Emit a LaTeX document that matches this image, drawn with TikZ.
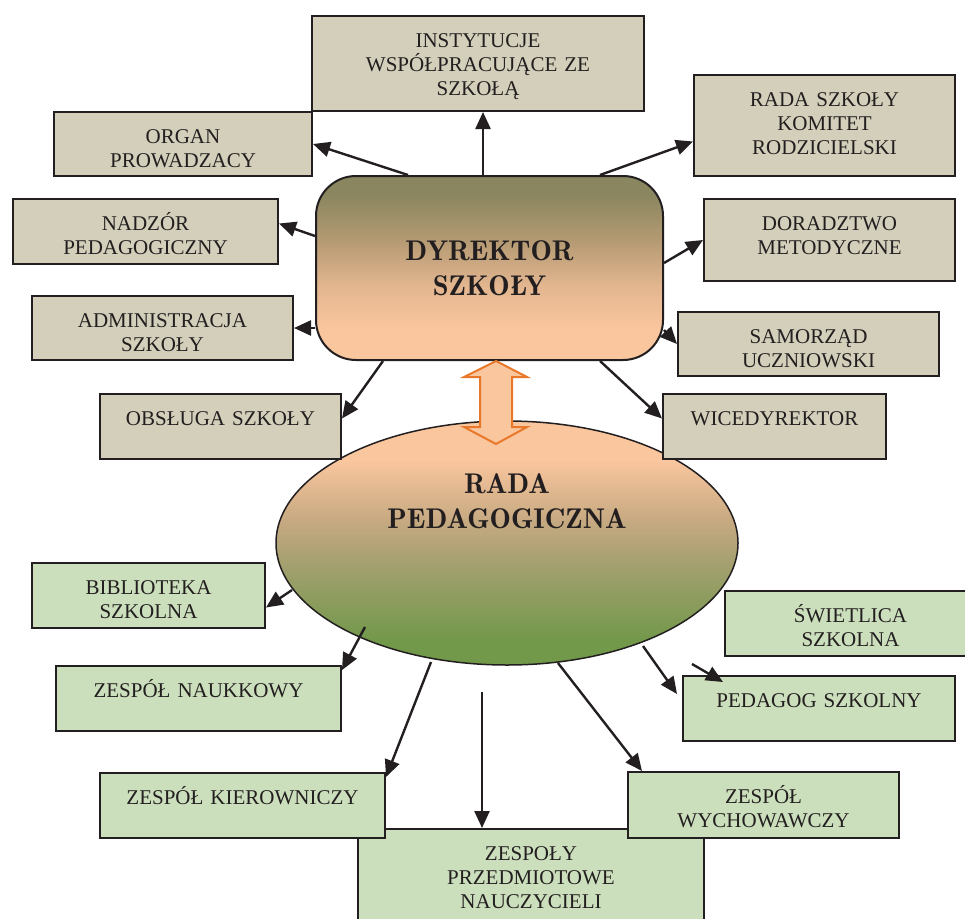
\documentclass[tikz,border=0pt]{standalone}
\usepackage{fontspec}
\newfontfamily\boxfont{Liberation Serif}
\newfontfamily\titlefont{lmromandemi10-regular.otf}
\usetikzlibrary{arrows.meta,shapes.geometric}
\definecolor{ink}{HTML}{231F20}
\definecolor{boxtan}{HTML}{D3CFBA}
\definecolor{boxgreen}{HTML}{CCDFBC}
\definecolor{dirtop}{HTML}{8A865F}
\definecolor{dirmid}{HTML}{B69B74}
\definecolor{dirlow}{HTML}{E3B690}
\definecolor{peach}{HTML}{FAC69E}
\definecolor{pedtan}{HTML}{C8AA82}
\definecolor{pedmid}{HTML}{A5A070}
\definecolor{pedgreen}{HTML}{72984A}
\definecolor{dblorange}{HTML}{E8782A}
\pgfdeclareverticalshading{dirshade}{100bp}{color(0bp)=(peach); color(33bp)=(peach);
  color(45bp)=(dirlow); color(57bp)=(dirmid); color(70bp)=(dirtop); color(100bp)=(dirtop)}
\pgfdeclareverticalshading{pedshade}{100bp}{color(0bp)=(pedgreen); color(30bp)=(pedgreen);
  color(46bp)=(pedmid); color(55bp)=(pedtan); color(67bp)=(peach); color(100bp)=(peach)}
\begin{document}
\begin{tikzpicture}[x=1pt,y=-1pt,
  box/.style={draw=ink, line width=2pt, inner sep=0pt, align=center, text=ink,
    font=\boxfont\fontsize{21}{24}\selectfont, text height=31pt, anchor=north west},
  upper/.style={box, fill=boxtan},
  lower/.style={box, fill=boxgreen},
  title/.style={align=center, text=ink, font=\titlefont\fontsize{28.5}{35}\selectfont},
  arr/.style={draw=ink, line width=2.4pt, -{Triangle[length=17pt,width=15pt]}},
  dbl/.style={draw=dblorange, line width=2pt, fill=peach, line join=miter}]
\useasboundingbox (0,0) rectangle (965,918);

\node[ellipse, draw=ink, line width=1.5pt, minimum width=462pt, minimum height=244pt,
  shading=pedshade, label={[title, name=pedtxt, yshift=42pt]center:RADA\\PEDAGOGICZNA}] (ped) at (507,543) {};

\node[draw=ink, line width=2pt, rounded corners=40pt, minimum width=347pt, minimum height=184pt,
  shading=dirshade, title] (dyr) at (489.5,268) {DYREKTOR\\SZKOŁY};

\node[upper, text width=332pt, text depth=64pt] (inst) at (311,15) {INSTYTUCJE\\WSPÓŁPRACUJĄCE ZE\\SZKOŁĄ};
\node[upper, text width=258pt, text depth=33pt] (org) at (53,111) {ORGAN\\PROWADZACY};
\node[upper, text width=261pt, text depth=70pt] (radasz) at (693,74) {RADA SZKOŁY\\KOMITET\\RODZICIELSKI};
\node[upper, text width=265pt, text depth=34pt] (nad) at (12,198) {NADZÓR\\PEDAGOGICZNY};
\node[upper, text width=251pt, text depth=51pt] (dor) at (703,198) {DORADZTWO\\METODYCZNE};
\node[upper, text width=261pt, text depth=33pt] (adm) at (31,295) {ADMINISTRACJA\\SZKOŁY};
\node[upper, text width=261pt, text depth=33pt] (sam) at (677,311) {SAMORZĄD\\UCZNIOWSKI};
\node[upper, text width=241pt, text depth=34pt] (obs) at (99,393) {OBSŁUGA SZKOŁY};
\node[upper, text width=223pt, text depth=34pt] (wice) at (662,393) {WICEDYREKTOR};

\node[lower, text width=233pt, text depth=34pt] (bib) at (31,562) {BIBLIOTEKA\\SZKOLNA};
\node[lower, text width=251pt, text depth=34pt] (swi) at (724,590) {ŚWIETLICA\\SZKOLNA};
\node[lower, text width=285pt, text depth=34pt] (nau) at (55,665) {ZESPÓŁ NAUKKOWY};
\node[lower, text width=272pt, text depth=34pt] (pedg) at (682,675) {PEDAGOG SZKOLNY};
\node[lower, text width=346pt, text depth=71pt] (zp) at (357,828) {ZESPOŁY\\PRZEDMIOTOWE\\NAUCZYCIELI};
\node[lower, text width=285pt, text depth=34pt] (kier) at (99,772) {ZESPÓŁ KIEROWNICZY};
\node[lower, text width=271pt, text depth=35pt] (wych) at (627,771) {ZESPÓŁ\\WYCHOWAWCZY};

\draw[dbl] ([xshift=6.5pt]dyr.south) -- ++(31,16) -- ++(-15,0) -- ++(0,50) -- ++(15,0)
  -- ++(-31,17) -- ++(-32,-17) -- ++(16,0) -- ++(0,-50) -- ++(-16,0) -- cycle;

\draw[arr] ([xshift=-6.5pt]dyr.north) -- ([xshift=-6.5pt]dyr.north |- inst.south);
\draw[arr] ([xshift=-81.5pt]dyr.north) -- (org.east);
\draw[arr] ([xshift=110.5pt]dyr.north) -- ([yshift=-16pt]radasz.west);
\draw[arr] ([yshift=32pt]dyr.west) -- ([yshift=8pt]nad.east);
\draw[arr] ([yshift=5pt]dyr.east) -- (dor.west);
\draw[arr] (dyr.west |- adm.east) -- (adm.east);
\draw[arr] ([yshift=-62pt]dyr.east) -- (sam.west);
\draw[arr] ([xshift=-106.5pt]dyr.south) -- ([yshift=8pt]obs.east);
\draw[arr] ([xshift=110.5pt]dyr.south) -- ([yshift=8pt]wice.west);

\draw[arr] ([xshift=-215pt,yshift=-47pt]ped.center) -- ([yshift=-12pt]bib.east);
\draw[arr] ([xshift=-142pt,yshift=-84pt]ped.center) -- ([yshift=-5pt]nau.north east);
\draw[arr] ([xshift=-76pt,yshift=-119pt]ped.center) -- ([yshift=-5pt]kier.north east);
\draw[arr] ([xshift=-25pt,yshift=-149pt]ped.center) -- ([xshift=-25pt]ped.center |- zp.north);
\draw[arr] ([xshift=51pt,yshift=-120pt]ped.center) -- ([xshift=15pt]wych.north west);
\draw[arr] ([xshift=136pt,yshift=-103pt]ped.center) -- ([xshift=-5pt,yshift=-19pt]pedg.north west);
\coordinate (swi-in) at (692,664);
\draw[arr] (swi-in) -- ([xshift=41pt,yshift=-7pt]pedg.north west);
\end{tikzpicture}
\end{document}
